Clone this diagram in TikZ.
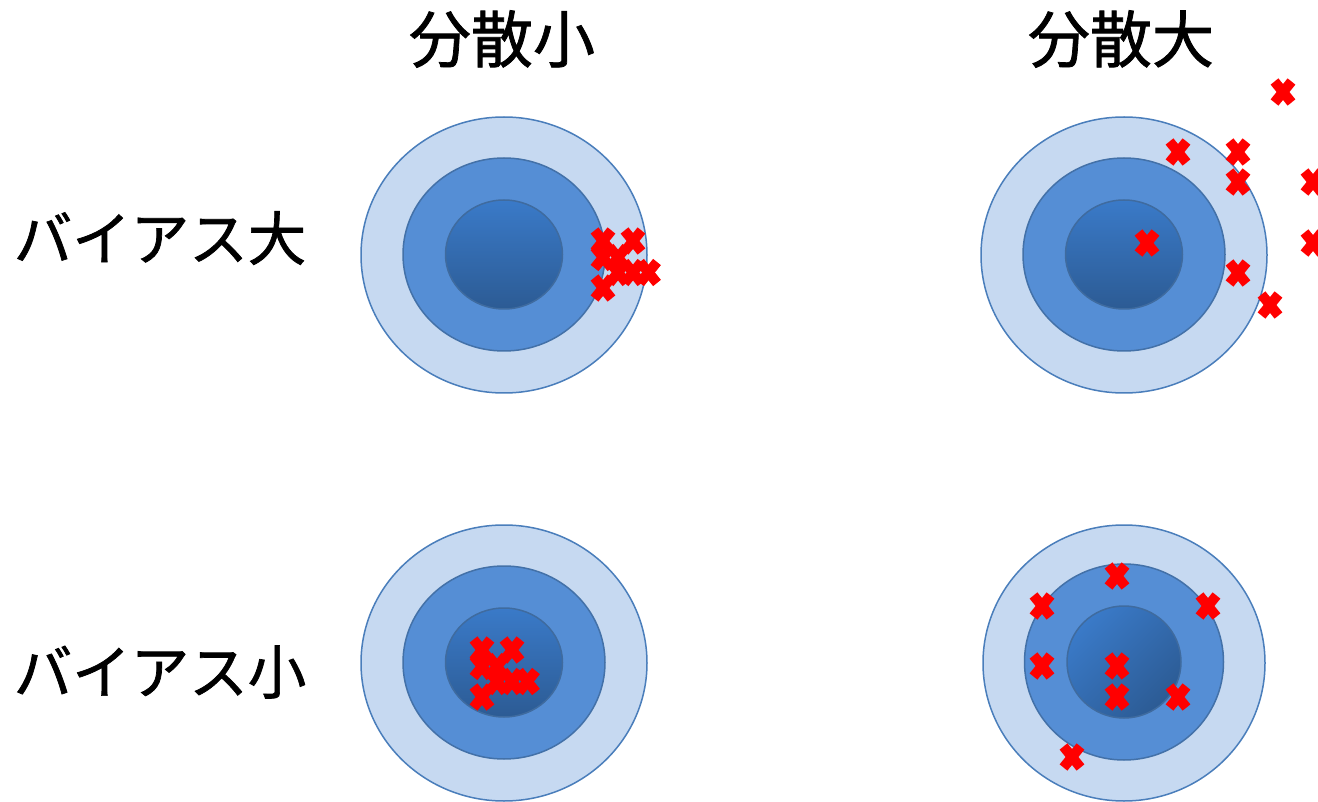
\documentclass[tikz,border=0pt]{standalone}
\usepackage{fontspec}
\newfontfamily\jp[FakeBold=1.2]{Noto Sans CJK JP}
\definecolor{outerfill}{HTML}{C6D9F1}
\definecolor{ringline}{HTML}{4A7EBB}
\definecolor{midfill}{HTML}{558ED5}
\definecolor{innertop}{HTML}{3A7AC8}
\definecolor{innerbot}{HTML}{2C5B94}
\definecolor{xred}{HTML}{FF0000}
\tikzset{
  outerring/.style={fill=outerfill,draw=ringline,line width=1.5pt},
  midring/.style={fill=midfill,draw=ringline!90!black,line width=1.5pt},
  innerring/.style={top color=innertop,bottom color=innerbot,draw=ringline!85!black,line width=1.5pt},
  crossline/.style={draw=xred,line width=10pt,line cap=butt},
  cross/.pic={\draw[crossline] (-8.5,-10.5)--(8.5,10.5); \draw[crossline] (-8.5,10.5)--(8.5,-10.5);},
  label/.style={font=\jp\fontsize{62}{74}\selectfont,inner sep=0pt,anchor=center},
  rowlabel/.style={font=\jp\fontsize{58.5}{70}\selectfont,inner sep=0pt,anchor=center}
}
\begin{document}
\begin{tikzpicture}[x=1pt,y=-1pt]
\useasboundingbox (0,0) rectangle (1318,802);
\clip (0,0) rectangle (1318,802);
% labels
\node[label] (colsmall) at (502,39) {分散小};
\node[label] (colbig) at (1121,39) {分散大};
\node[rowlabel] (rowbig) at (160,238) {バイアス大};
\node[rowlabel] (rowsmall) at (160,672) {バイアス小};
% top-left target
\draw[outerring] (504,255) ellipse [x radius=143,y radius=138];
\draw[midring] (504,254.5) ellipse [x radius=101,y radius=96.5];
\draw[innerring] (504,254.5) ellipse [x radius=58.5,y radius=54.5];
% top-right target
\draw[outerring] (1124,255) ellipse [x radius=143,y radius=138];
\draw[midring] (1124,254.5) ellipse [x radius=101,y radius=96.5];
\draw[innerring] (1124,254.5) ellipse [x radius=58.5,y radius=54.5];
% bottom-left target
\draw[outerring] (504,663) ellipse [x radius=143,y radius=138];
\draw[midring] (504,662.5) ellipse [x radius=101,y radius=96.5];
\draw[innerring] (504,662.5) ellipse [x radius=58.5,y radius=54.5];
% bottom-right target
\draw[outerring] (1124,663) ellipse [x radius=141,y radius=138];
\draw[midring] (1124,662) ellipse [x radius=99.5,y radius=98];
\draw[innerring,shading angle=45] (1124,662) ellipse [x radius=57,y radius=56];
% crosses top-left
\foreach \p in {(603,241),(633,241),(603,257.5),(618,257.5),(618,272.5),(633,272.5),(648.5,272.5),(603,288)}
  \pic at \p {cross};
% crosses bottom-left
\foreach \p in {(482,650),(512,650),(482,666.5),(497,666.5),(497,681.5),(512,681.5),(527.5,681.5),(482,697)}
  \pic at \p {cross};
% crosses top-right
\foreach \p in {(1283,92),(1178,152),(1238,152),(1238,182),(1313,182),(1147,243),(1313,243),(1238,273),(1270,305)}
  \pic at \p {cross};
% crosses bottom-right
\foreach \p in {(1117,576),(1042,606),(1208,606),(1042,666),(1117,666),(1117,697),(1178,697),(1072,757)}
  \pic at \p {cross};
\end{tikzpicture}
\end{document}
